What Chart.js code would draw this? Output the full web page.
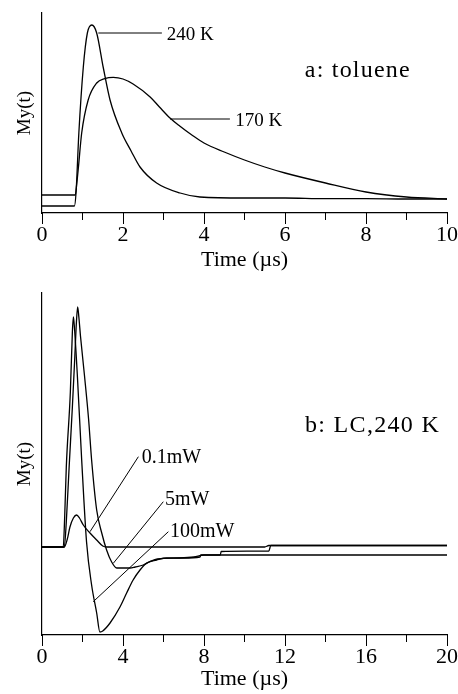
<!DOCTYPE html>
<html>
<head>
<meta charset="utf-8">
<script src="https://cdn.jsdelivr.net/npm/chart.js@4.4.1/dist/chart.umd.min.js"></script>
<style>
  html, body { margin: 0; padding: 0; background: #fff; }
  #wrapA { position: absolute; left: 0; top: 0; width: 458px; height: 275px; }
  #wrapB { position: absolute; left: 0; top: 275px; width: 458px; height: 419px; }
</style>
</head>
<body>
<div id="wrapA"><canvas id="chartA"></canvas></div>
<div id="wrapB"><canvas id="chartB"></canvas></div>
<script>
// ============ 1. DATA =====================================
// panel a: toluene
const time240 = [0, 0.8, 0.84, 0.91, 1.02, 1.12, 1.23, 1.35, 1.51, 1.68, 1.97, 2.2, 2.42, 2.83, 3.41, 3.9, 5, 6, 7, 8, 9, 10];
const my240   = [0.035, 0.035, 0.10, 0.40, 0.73, 0.90, 0.94, 0.90, 0.73, 0.565, 0.40, 0.31, 0.23, 0.15, 0.10, 0.08, 0.075, 0.075, 0.072, 0.072, 0.07, 0.07];
const time170 = [0, 0.82, 0.86, 0.90, 0.98, 1.14, 1.35, 1.55, 1.76, 2.0, 2.25, 2.67, 2.9, 3.16, 3.4, 3.7, 4.0, 4.5, 5.0, 5.5, 6.0, 7.0, 8.0, 9.0, 10];
const my170   = [0.09, 0.09, 0.15, 0.23, 0.40, 0.565, 0.65, 0.672, 0.678, 0.67, 0.645, 0.58, 0.53, 0.475, 0.435, 0.39, 0.35, 0.305, 0.265, 0.23, 0.20, 0.15, 0.105, 0.08, 0.07];

// panel b: LC, 240 K
const time01 = [0, 1.1, 1.25, 1.38, 1.55, 1.71, 1.85, 2.04, 2.37, 2.7, 3.0, 3.2, 11.0, 11.2, 20];
const my01   = [0, 0, 0.08, 0.2, 0.29, 0.32, 0.29, 0.22, 0.14, 0.07, 0.01, 0, 0, 0.015, 0.015];
const time5  = [0, 1.1, 1.2, 1.34, 1.5, 1.62, 1.7, 1.76, 1.82, 1.9, 2.1, 2.3, 2.45, 2.7, 2.95, 3.19, 3.44, 3.69, 4.0, 4.35, 4.6, 5.0, 5.3, 5.7, 6.8, 7.5, 8.0, 20];
const my5    = [0, 0, 0.25, 0.8, 1.4, 1.9, 2.25, 2.40, 2.3, 2.11, 1.71, 1.28, 0.87, 0.37, 0.14, -0.03, -0.15, -0.21, -0.21, -0.21, -0.2, -0.18, -0.15, -0.12, -0.11, -0.10, -0.08, -0.08];
const time100 = [0, 1.05, 1.12, 1.2, 1.4, 1.5, 1.55, 1.6, 1.75, 1.96, 2.2, 2.45, 2.7, 2.86, 3.0, 3.36, 3.85, 4.18, 4.5, 4.84, 5.17, 5.66, 6.15, 7.0, 7.8, 7.85, 8.8, 8.85, 11.2, 11.3, 20];
const my100   = [0, 0, 0.3, 0.8, 1.55, 2.15, 2.30, 2.2, 1.70, 0.87, 0.05, -0.38, -0.66, -0.85, -0.84, -0.76, -0.60, -0.46, -0.33, -0.23, -0.16, -0.13, -0.11, -0.11, -0.10, -0.08, -0.08, -0.045, -0.04, 0.015, 0.015];

// tick steps
const ticksA = { max: 10, major: 2, minor: 1 };
const ticksB = { max: 20, major: 4, minor: 2 };

// ============ 2. HELPERS ==============
const serif = "'Liberation Serif', 'DejaVu Serif', serif";

function pts(xs, ys) {
    return xs.map((x, i) => ({ x: x, y: ys[i] }));
}

function curve(label, xs, ys) {
    return {
        label: label,
        data: pts(xs, ys),
        borderColor: "#000",
        borderWidth: 1.3,
        pointRadius: 0,
        fill: false,
        cubicInterpolationMode: "monotone"
    };
}

// leader lines + labels placed in data units
const notesPlugin = {
    id: "notes",
    afterDatasetsDraw(chart, args, opts) {
        const ctx = chart.ctx;
        const xs = chart.scales.x, ys = chart.scales.y;
        ctx.save();
        ctx.strokeStyle = "#000";
        ctx.lineWidth = 1;
        (opts.leaders || []).forEach(l => {
            ctx.beginPath();
            ctx.moveTo(xs.getPixelForValue(l[0]), ys.getPixelForValue(l[1]));
            ctx.lineTo(xs.getPixelForValue(l[2]), ys.getPixelForValue(l[3]));
            ctx.stroke();
        });
        ctx.fillStyle = "#000";
        ctx.textAlign = "left";
        ctx.textBaseline = "middle";
        (opts.texts || []).forEach(t => {
            ctx.font = t.size + "px " + serif;
            ctx.letterSpacing = (t.spacing || 0) + "px";
            ctx.fillText(t.text, xs.getPixelForValue(t.x), ys.getPixelForValue(t.y));
        });
        ctx.restore();
    }
};

function makeChart(id, datasets, tk, yMin, yMax, padTop, xHeight, notes) {
    return new Chart(document.getElementById(id), {
        type: "line",
        data: { datasets: datasets },
        plugins: [notesPlugin],
        options: {
            responsive: true,
            maintainAspectRatio: false,
            animation: false,
            layout: { padding: { top: padTop, right: 11, left: 0, bottom: 0 } },
            plugins: {
                legend: { display: false },
                tooltip: { enabled: false },
                notes: notes
            },
            scales: {
                x: {
                    type: "linear", position: "bottom", weight: 1,
                    min: 0, max: tk.max,
                    afterFit: s => { s.height = xHeight; },
                    ticks: {
                        stepSize: tk.major, autoSkip: false, maxRotation: 0,
                        padding: -2, color: "#000",
                        font: { family: serif, size: 22 }
                    },
                    grid: { drawOnChartArea: false, drawTicks: true, tickLength: 11, color: "#000", lineWidth: 1 },
                    border: { display: true, color: "#000", width: 1.2 },
                    title: {
                        display: true, text: "Time (µs)", color: "#000",
                        font: { family: serif, size: 22 },
                        padding: { top: 0, bottom: 1.5 }
                    }
                },
                xMinor: {
                    type: "linear", position: "bottom", weight: 0,
                    min: 0, max: tk.max,
                    afterFit: s => { s.height = 0; },
                    ticks: { stepSize: tk.minor, display: false, autoSkip: false },
                    grid: { drawOnChartArea: false, drawTicks: true, tickLength: 7, color: "#000", lineWidth: 1 },
                    border: { display: false }
                },
                y: {
                    min: yMin, max: yMax,
                    afterFit: s => { s.width = 42; },
                    ticks: { display: false },
                    grid: { display: false },
                    border: { display: true, color: "#000", width: 1.2 },
                    title: {
                        display: true, text: "My(t)", color: "#000",
                        font: { family: serif, size: 19 },
                        padding: { top: 14, bottom: 0 }
                    }
                }
            }
        }
    });
}

// ============ 3. PANEL A ==============
makeChart("chartA",
    [curve("240 K", time240, my240), curve("170 K", time170, my170)],
    ticksA, 0, 1.0, 13, 62,
    {
        leaders: [[1.39, 0.90, 2.96, 0.90], [3.16, 0.47, 4.64, 0.47]],
        texts: [
            { text: "240 K", x: 3.08, y: 0.89, size: 19 },
            { text: "170 K", x: 4.77, y: 0.46, size: 19 },
            { text: "a: toluene", x: 6.49, y: 0.71, size: 24, spacing: 1.2 }
        ]
    });

// ============ 4. PANEL B ==============
makeChart("chartB",
    [curve("0.1mW", time01, my01), curve("5mW", time5, my5), curve("100mW", time100, my100)],
    ticksB, -0.88, 2.54, 18, 59,
    {
        leaders: [[2.37, 0.153, 4.76, 0.903], [3.52, -0.163, 5.99, 0.453], [2.53, -0.547, 6.24, 0.153]],
        texts: [
            { text: "0.1mW", x: 4.92, y: 0.89, size: 20 },
            { text: "5mW", x: 6.07, y: 0.47, size: 20 },
            { text: "100mW", x: 6.32, y: 0.157, size: 20 },
            { text: "b: LC,240 K", x: 12.99, y: 1.213, size: 24, spacing: 1.3 }
        ]
    });
</script>
</body>
</html>
